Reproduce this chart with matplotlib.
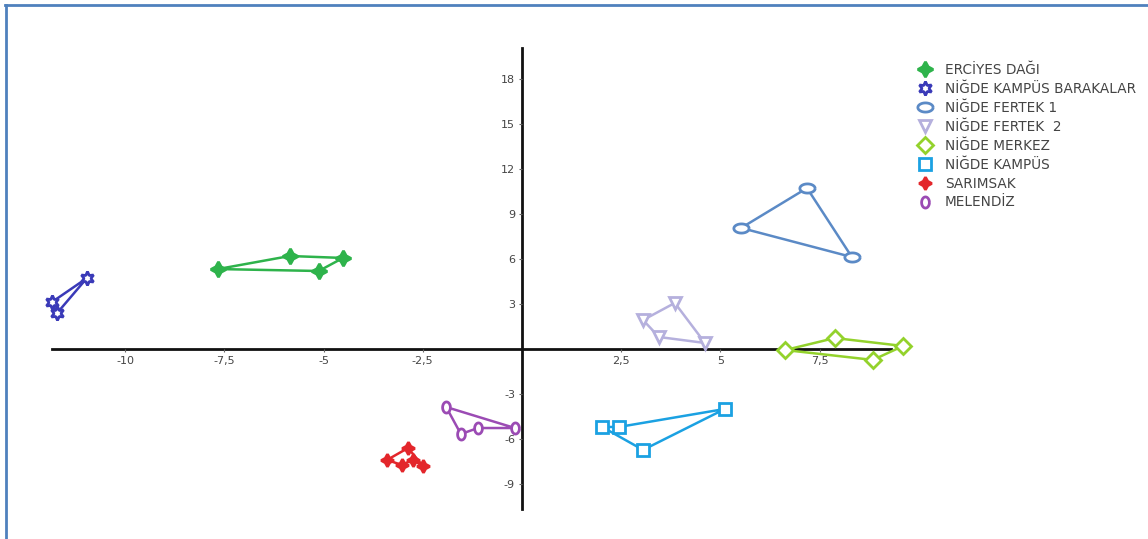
import numpy as np
import matplotlib
matplotlib.use("Agg")
import matplotlib.pyplot as plt
from matplotlib.lines import Line2D
from matplotlib.ticker import FuncFormatter

# group names (legend order)
groups = ["ERCİYES DAĞI", "NİĞDE KAMPÜS BARAKALAR", "NİĞDE FERTEK 1", "NİĞDE FERTEK  2",
          "NİĞDE MERKEZ", "NİĞDE KAMPÜS", "SARIMSAK", "MELENDİZ"]

# points of each group, listed in hull order
erciyes_x = [-7.66, -5.85, -4.51, -5.12]
erciyes_y = [5.33, 6.20, 6.07, 5.20]
barakalar_x = [-11.84, -10.96, -11.71]
barakalar_y = [3.13, 4.73, 2.40]
fertek1_x = [5.52, 7.18, 8.31]
fertek1_y = [8.07, 10.73, 6.13]
fertek2_x = [3.05, 3.85, 4.61, 3.45]
fertek2_y = [1.93, 3.07, 0.40, 0.80]
merkez_x = [6.63, 7.88, 9.60, 8.84]
merkez_y = [-0.07, 0.73, 0.20, -0.73]
kampus_x = [2.02, 2.44, 5.11, 3.05]
kampus_y = [-5.20, -5.20, -4.00, -6.73]
sarimsak_x = [-3.40, -2.87, -2.50, -2.75, -3.03]
sarimsak_y = [-7.40, -6.60, -7.80, -7.40, -7.73]
melendiz_x = [-1.91, -0.18, -1.11, -1.54]
melendiz_y = [-3.87, -5.27, -5.27, -5.67]

x_ticks = [-10, -7.5, -5, -2.5, 2.5, 5, 7.5]
y_ticks = [-9, -6, -3, 3, 6, 9, 12, 15, 18]

colors = ["#2eb34b", "#3a3ab8", "#5b8ac6", "#b5b0dd", "#93d22c", "#1ba1e2", "#e3262b", "#9b4bb4"]

t = np.linspace(0, 2 * np.pi, 40)
ellipse_h = list(zip(np.cos(t) * 1.0, np.sin(t) * 0.6))
ellipse_v = list(zip(np.cos(t) * 0.7, np.sin(t) * 1.0))

# marker, filled?, size
styles = [((4, 1, 0), True, 11), ((6, 1, 0), False, 10), (ellipse_h, False, 11), ("v", False, 9),
          ("D", False, 8), ("s", False, 8), ((4, 1, 0), True, 9), (ellipse_v, False, 8)]

data = [(erciyes_x, erciyes_y), (barakalar_x, barakalar_y), (fertek1_x, fertek1_y),
        (fertek2_x, fertek2_y), (merkez_x, merkez_y), (kampus_x, kampus_y),
        (sarimsak_x, sarimsak_y), (melendiz_x, melendiz_y)]

fig = plt.figure(figsize=(11.48, 5.39), dpi=100)
ax = fig.add_axes([0, 0, 1, 1])
ax.set_xlim(-13.15, 15.77)
ax.set_ylim(-12.67, 23.27)

for spine in ["top", "right"]:
    ax.spines[spine].set_visible(False)
ax.spines["left"].set_position(("data", 0))
ax.spines["bottom"].set_position(("data", 0))
ax.spines["left"].set_bounds(-10.7, 20.1)
ax.spines["bottom"].set_bounds(-11.85, 9.3)
for spine in ["left", "bottom"]:
    ax.spines[spine].set_linewidth(2.0)
    ax.spines[spine].set_color("#111111")
    ax.spines[spine].set_zorder(1)

ax.set_xticks(x_ticks)
ax.set_yticks(y_ticks)
fmt = FuncFormatter(lambda v, p: ("%g" % v).replace(".", ","))
ax.xaxis.set_major_formatter(fmt)
ax.yaxis.set_major_formatter(fmt)
ax.tick_params(length=2, width=0.8, color="#666666", labelsize=8, labelcolor="#444444", pad=3)

handles = []
for (xs, ys), col, (mk, filled, ms), name in zip(data, colors, styles, groups):
    ax.plot(xs + xs[:1], ys + ys[:1], color=col, lw=1.8, zorder=2)
    face = col if filled else "white"
    ax.plot(xs, ys, linestyle="none", marker=mk, ms=ms, mec=col, mfc=face, mew=2, zorder=3)
    handles.append(Line2D([], [], linestyle="none", marker=mk, ms=ms, mec=col, mfc=face, mew=2, label=name))

leg = fig.legend(handles=handles, loc="upper left", bbox_to_anchor=(0.795, 0.893), frameon=False,
                 fontsize=9.8, labelspacing=0.36, handlelength=1.0, handletextpad=0.95, borderaxespad=0)
for txt in leg.get_texts():
    txt.set_color("#444444")

# blue frame on left and top
fig.add_artist(Line2D([0.0052, 0.0052], [0, 0.991], transform=fig.transFigure, color="#4f81bd", lw=2))
fig.add_artist(Line2D([0.0045, 1.0], [0.991, 0.991], transform=fig.transFigure, color="#4f81bd", lw=2))

fig.savefig("out.png", dpi=100)
